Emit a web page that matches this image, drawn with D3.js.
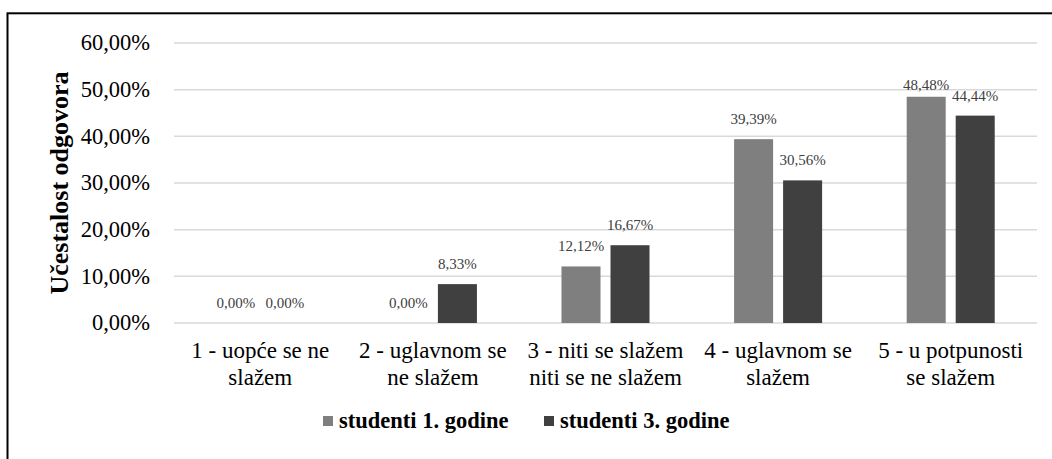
<!DOCTYPE html>
<html>
<head>
<meta charset="utf-8">
<script src="https://cdn.jsdelivr.net/npm/d3@7"></script>
<style>
  html, body { margin: 0; padding: 0; background: #fff; }
  svg text { font-family: 'Liberation Serif', 'Times New Roman', 'DejaVu Serif', serif; }
</style>
</head>
<body>
<div id="chart"></div>
<script>
const categories = [
  ['1 - uopće se ne', 'slažem'],
  ['2 - uglavnom se', 'ne slažem'],
  ['3 - niti se slažem', 'niti se ne slažem'],
  ['4 - uglavnom se', 'slažem'],
  ['5 - u potpunosti', 'se slažem']
];
const seriesNames = ['studenti 1. godine', 'studenti 3. godine'];
const firstYear = [0, 0, 12.12, 39.39, 48.48];
const thirdYear = [0, 8.33, 16.67, 30.56, 44.44];
const yTicks = [0, 10, 20, 30, 40, 50, 60];

const colors = ['#7f7f7f', '#404040'];
const W = 1052, H = 459;
const plot = { left: 174, right: 1037, top: 43, bottom: 323 };
const serif = "'Liberation Serif', 'Times New Roman', serif";

const fmt = v => v.toFixed(2).replace('.', ',') + '%';

const rows = categories.map((c, i) => ({
  key: i,
  lines: c,
  values: [firstYear[i], thirdYear[i]]
}));

const svg = d3.select('#chart')
  .append('svg')
  .attr('width', W)
  .attr('height', H)
  .style('display', 'block');

// outer frame (runs off the right and bottom edge in the original)
svg.append('rect')
  .attr('x', 7.5)
  .attr('y', 13.3)
  .attr('width', W + 20)
  .attr('height', H + 20)
  .attr('fill', 'none')
  .attr('stroke', '#000')
  .attr('stroke-width', 2);

const y = d3.scaleLinear()
  .domain([0, 60])
  .range([plot.bottom, plot.top]);

const x0 = d3.scaleBand()
  .domain(rows.map(d => d.key))
  .range([plot.left, plot.right])
  .paddingInner(0.49)
  .paddingOuter(0.245);

const x1 = d3.scaleBand()
  .domain([0, 1])
  .range([0, x0.bandwidth()])
  .paddingInner(0.204);

// gridlines
svg.append('g')
  .attr('class', 'grid')
  .selectAll('line')
  .data(yTicks)
  .join('line')
  .attr('x1', plot.left)
  .attr('x2', plot.right)
  .attr('y1', d => y(d))
  .attr('y2', d => y(d))
  .attr('stroke', '#d9d9d9')
  .attr('stroke-width', 1.5);

// y tick labels
svg.append('g')
  .attr('class', 'y-ticks')
  .selectAll('text')
  .data(yTicks)
  .join('text')
  .attr('x', 150)
  .attr('y', d => y(d))
  .attr('dy', '0.33em')
  .attr('text-anchor', 'end')
  .attr('font-family', serif)
  .attr('font-size', 22.5)
  .attr('fill', '#000')
  .text(d => fmt(d));

// y axis title
svg.append('text')
  .attr('transform', `translate(68, ${(plot.top + plot.bottom) / 2}) rotate(-90)`)
  .attr('text-anchor', 'middle')
  .attr('font-family', serif)
  .attr('font-size', 26)
  .attr('font-weight', 'bold')
  .attr('fill', '#000')
  .text('Učestalost odgovora');

// bars
const groups = svg.append('g')
  .attr('class', 'bars')
  .selectAll('g')
  .data(rows)
  .join('g')
  .attr('transform', d => `translate(${x0(d.key)}, 0)`);

groups.selectAll('rect')
  .data(d => d.values.map((v, s) => ({ v, s })))
  .join('rect')
  .attr('x', d => x1(d.s))
  .attr('y', d => y(d.v))
  .attr('width', x1.bandwidth())
  .attr('height', d => y(0) - y(d.v))
  .attr('fill', d => colors[d.s]);

// data labels
groups.selectAll('text')
  .data(d => d.values.map((v, s) => ({ v, s })))
  .join('text')
  .attr('x', d => x1(d.s) + x1.bandwidth() / 2)
  // Excel pushed the tallest label down a bit, keep that
  .attr('y', d => y(d.v) - (d.v > 48 ? 7 : 15))
  .attr('text-anchor', 'middle')
  .attr('font-family', serif)
  .attr('font-size', 15)
  .attr('fill', '#404040')
  .text(d => fmt(d.v));

// category labels
const catLabels = svg.append('g')
  .attr('class', 'x-labels')
  .selectAll('text')
  .data(rows)
  .join('text')
  .attr('text-anchor', 'middle')
  .attr('font-family', serif)
  .attr('font-size', 23)
  .attr('fill', '#000');

catLabels.selectAll('tspan')
  .data(d => d.lines.map(l => ({ l, cx: x0(d.key) + x0.bandwidth() / 2 })))
  .join('tspan')
  .attr('x', d => d.cx)
  .attr('y', (d, i) => 358 + i * 27)
  .text(d => d.l);

// legend
const legend = svg.append('g')
  .attr('class', 'legend')
  .selectAll('g')
  .data(seriesNames)
  .join('g')
  .attr('transform', (d, i) => `translate(${323 + i * 221}, 416)`);

legend.append('rect')
  .attr('width', 10)
  .attr('height', 10)
  .attr('fill', (d, i) => colors[i]);

legend.append('text')
  .attr('x', 16)
  .attr('y', 10)
  .attr('dy', '0.1em')
  .attr('font-family', serif)
  .attr('font-size', 22.5)
  .attr('font-weight', 'bold')
  .attr('fill', '#000')
  .text(d => d);
</script>
</body>
</html>
